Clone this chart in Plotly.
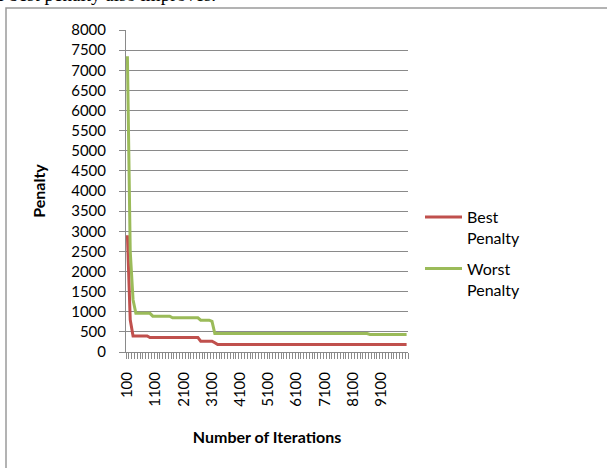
import plotly.graph_objects as go

# Categories: iteration counts (100 .. 10000 in steps of 100)
iterations = [100 * k for k in range(1, 101)]

best_penalty = [
    2900, 800, 400, 400, 400, 400, 400, 400, 360, 360,
    360, 360, 360, 360, 360, 360, 360, 360, 360, 360,
    360, 360, 360, 360, 360, 360, 270, 270, 270, 270,
    270, 230, 185, 185, 185, 185, 185, 185, 185, 185,
    185, 185, 185, 185, 185, 185, 185, 185, 185, 185,
    185, 185, 185, 185, 185, 185, 185, 185, 185, 185,
    185, 185, 185, 185, 185, 185, 185, 185, 185, 185,
    185, 185, 185, 185, 185, 185, 185, 185, 185, 185,
    185, 185, 185, 185, 185, 185, 185, 185, 185, 185,
    185, 185, 185, 185, 185, 185, 185, 185, 185, 185,
]

worst_penalty = [
    7350, 2500, 1300, 960, 960, 960, 960, 960, 960, 890,
    890, 890, 890, 890, 890, 890, 850, 850, 850, 850,
    850, 850, 850, 850, 850, 850, 790, 790, 790, 790,
    760, 460, 460, 460, 460, 460, 460, 460, 460, 460,
    460, 460, 460, 460, 460, 460, 460, 460, 460, 460,
    460, 460, 460, 460, 460, 460, 460, 460, 460, 460,
    460, 460, 460, 460, 460, 460, 460, 460, 460, 460,
    460, 460, 460, 460, 460, 460, 460, 460, 460, 460,
    460, 460, 460, 460, 460, 460, 435, 435, 435, 435,
    435, 435, 435, 435, 435, 435, 435, 435, 435, 435,
]

x_tick_labels = ["100", "1100", "2100", "3100", "4100", "5100", "6100", "7100", "8100", "9100"]
x_tick_vals = [int(t) for t in x_tick_labels]
y_tick_vals = list(range(0, 8001, 500))

FONT = "Lato"
GRID = "#8a8a8a"

fig = go.Figure()
fig.add_trace(go.Scatter(
    x=iterations, y=best_penalty, mode="lines", name="Best<br>Penalty",
    legendgroup="best",
    line=dict(color="#C0504D", width=3),
))
fig.add_trace(go.Scatter(
    x=iterations, y=worst_penalty, mode="lines", name="Worst<br>Penalty",
    legendgroup="worst",
    line=dict(color="#9BBB59", width=3),
))

L, R, T, B = 126, 199, 30, 116
W, H = 607, 468
pw, ph = W - L - R, H - T - B

def px_x(p):
    return (p - L) / pw

def px_y(p):
    return (H - B - p) / ph

fig.update_layout(
    width=W, height=H,
    margin=dict(l=L, r=R, t=T, b=B, pad=0),
    paper_bgcolor="white", plot_bgcolor="white",
    font=dict(family=FONT, size=15, color="#000000"),
    showlegend=True,
    legend=dict(
        x=px_x(420), xanchor="left", y=px_y(200), yanchor="top",
        valign="top", font=dict(family=FONT, size=16, color="#000000"),
        itemwidth=37, tracegroupgap=7, bgcolor="rgba(0,0,0,0)",
    ),
    xaxis=dict(
        range=[50, 10050],
        tickmode="array", tickvals=x_tick_vals, ticktext=x_tick_labels,
        tickangle=-90, ticks="", showgrid=False, zeroline=False,
        showline=True, linecolor=GRID, linewidth=1,
        tickfont=dict(family=FONT, size=15, color="#000000"),
        ticklabelstandoff=13,
        minor=dict(ticks="outside", tick0=50, dtick=100, ticklen=6,
                   tickcolor=GRID, tickwidth=1, showgrid=False),
        title=dict(text="<b>Number of Iterations</b>", standoff=25,
                   font=dict(family=FONT, size=16, color="#000000")),
    ),
    yaxis=dict(
        range=[0, 8000], tickmode="array", tickvals=y_tick_vals,
        ticks="outside", ticklen=6, tickcolor=GRID, tickwidth=1,
        showgrid=True, gridcolor=GRID, gridwidth=1, zeroline=False,
        showline=True, linecolor=GRID, linewidth=1,
        tickfont=dict(family=FONT, size=15, color="#000000"),
        ticklabelstandoff=10,
        title=dict(text="<b>Penalty</b>", standoff=21,
                   font=dict(family=FONT, size=16, color="#000000")),
    ),
    shapes=[dict(
        type="rect", xref="paper", yref="paper",
        x0=px_x(6), x1=px_x(W + 20), y0=px_y(H + 20), y1=px_y(8),
        line=dict(color="#9a9a9a", width=1.5), fillcolor="rgba(0,0,0,0)",
        layer="below",
    )],
    annotations=[dict(
        text="e best penalty also improves.", xref="paper", yref="paper",
        x=px_x(-6), y=px_y(6.5), xanchor="left", yanchor="bottom",
        showarrow=False, font=dict(family="Liberation Serif", size=19, color="#000000"),
    )],
)

fig.write_html(
    "out.html",
    config={"displayModeBar": False},
    post_script="document.body.style.margin='0';document.body.style.overflow='hidden';",
)
